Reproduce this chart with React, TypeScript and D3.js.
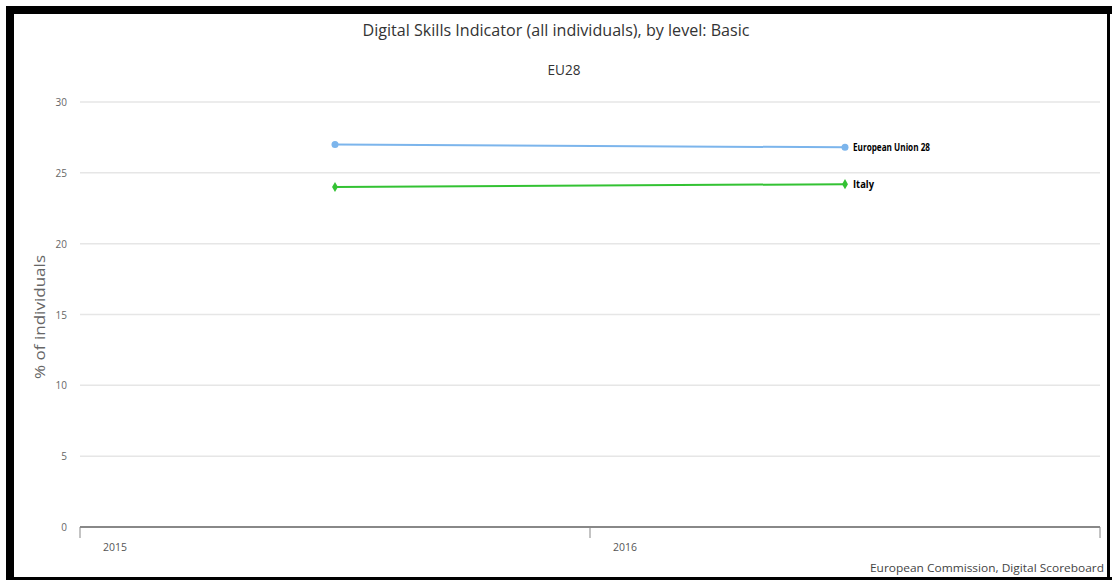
import React from "react";
import * as d3 from "d3";

const years = ["2015", "2016"];
const euValues = [27.0, 26.8];
const italyValues = [24.0, 24.2];
const yTicks = [0, 5, 10, 15, 20, 25, 30];
const seriesNames = ["European Union 28", "Italy"];
const seriesColors = ["#7cb5ec", "#33c233"];

const W = 1112;
const H = 580;
const FONT = "'Open Sans', 'DejaVu Sans', sans-serif";

export default function App() {
  const x = d3.scaleBand<string>().domain(years).range([80, 1100]).padding(0);
  const y = d3.scaleLinear().domain([0, 30]).range([527, 102]);
  const cx = (yr: string) => (x(yr) as number) + x.bandwidth() / 2;

  const series = [
    { name: seriesNames[0], values: euValues, color: seriesColors[0] },
    { name: seriesNames[1], values: italyValues, color: seriesColors[1] },
  ];

  const line = d3
    .line<[string, number]>()
    .x((d) => cx(d[0]))
    .y((d) => y(d[1]));

  const tickXs = [...years.map((yr) => x(yr) as number), x.range()[1]];

  return (
    <svg
      width={W}
      height={H}
      style={{ position: "absolute", left: 0, top: 0, background: "#fff" }}
      fontFamily={FONT}
    >
      <rect x={0} y={0} width={W} height={H} fill="#fff" />
      {yTicks.map((t) => (
        <line
          key={"g" + t}
          x1={80}
          x2={1100}
          y1={y(t)}
          y2={y(t)}
          stroke="#e6e6e6"
          strokeWidth={1.5}
        />
      ))}
      {yTicks.map((t) => (
        <text
          key={"l" + t}
          x={67}
          y={y(t) + 4}
          textAnchor="end"
          fontSize={10}
          fill="#666"
        >
          {t}
        </text>
      ))}
      <text
        transform={`translate(45,${317}) rotate(-90)`}
        textAnchor="middle"
        fontSize={14}
        fill="#666"
        textLength={124}
        lengthAdjust="spacingAndGlyphs"
      >
        % of individuals
      </text>
      <line x1={80} x2={1100} y1={y(0)} y2={y(0)} stroke="#888" strokeWidth={2} />
      {tickXs.map((tx, i) => (
        <line
          key={"t" + i}
          x1={tx}
          x2={tx}
          y1={y(0)}
          y2={y(0) + 11}
          stroke="#888"
          strokeWidth={1}
        />
      ))}
      {years.map((yr) => (
        <text
          key={"x" + yr}
          x={(x(yr) as number) + 23}
          y={551}
          fontSize={10}
          fill="#555"
          textLength={24}
          lengthAdjust="spacingAndGlyphs"
        >
          {yr}
        </text>
      ))}
      {series.map((s, si) => {
        const pts: [string, number][] = years.map((yr, i) => [yr, s.values[i]]);
        const last = pts[pts.length - 1];
        return (
          <g key={s.name}>
            <path d={line(pts) || ""} fill="none" stroke={s.color} strokeWidth={2} />
            {pts.map((p, i) =>
              si === 0 ? (
                <circle key={i} cx={cx(p[0])} cy={y(p[1])} r={3.5} fill={s.color} />
              ) : (
                <path
                  key={i}
                  d={d3.symbol().type(d3.symbolDiamond).size(30)() || ""}
                  transform={`translate(${cx(p[0])},${y(p[1])})`}
                  fill={s.color}
                />
              )
            )}
            <text
              x={cx(last[0]) + 8}
              y={y(last[1]) + 3.5}
              fontSize={10}
              fontWeight="bold"
              fill="#000"
              textLength={si === 0 ? 77 : 21}
              lengthAdjust="spacingAndGlyphs"
            >
              {s.name}
            </text>
          </g>
        );
      })}
      <text
        x={556}
        y={36}
        textAnchor="middle"
        fontSize={16}
        fill="#333"
        textLength={387}
        lengthAdjust="spacingAndGlyphs"
      >
        Digital Skills Indicator (all individuals), by level: Basic
      </text>
      <text
        x={564}
        y={75}
        textAnchor="middle"
        fontSize={14}
        fill="#333"
        textLength={33}
        lengthAdjust="spacingAndGlyphs"
      >
        EU28
      </text>
      <text
        x={1104}
        y={572}
        textAnchor="end"
        fontSize={11}
        fill="#444"
        textLength={234}
        lengthAdjust="spacingAndGlyphs"
      >
        European Commission, Digital Scoreboard
      </text>
      <rect x={6} y={6} width={8} height={574} fill="#000" />
      <rect x={6} y={6} width={1106} height={8} fill="#000" />
      <rect x={1107} y={6} width={3} height={574} fill="#000" />
      <rect x={6} y={577} width={1106} height={3} fill="#000" />
    </svg>
  );
}
